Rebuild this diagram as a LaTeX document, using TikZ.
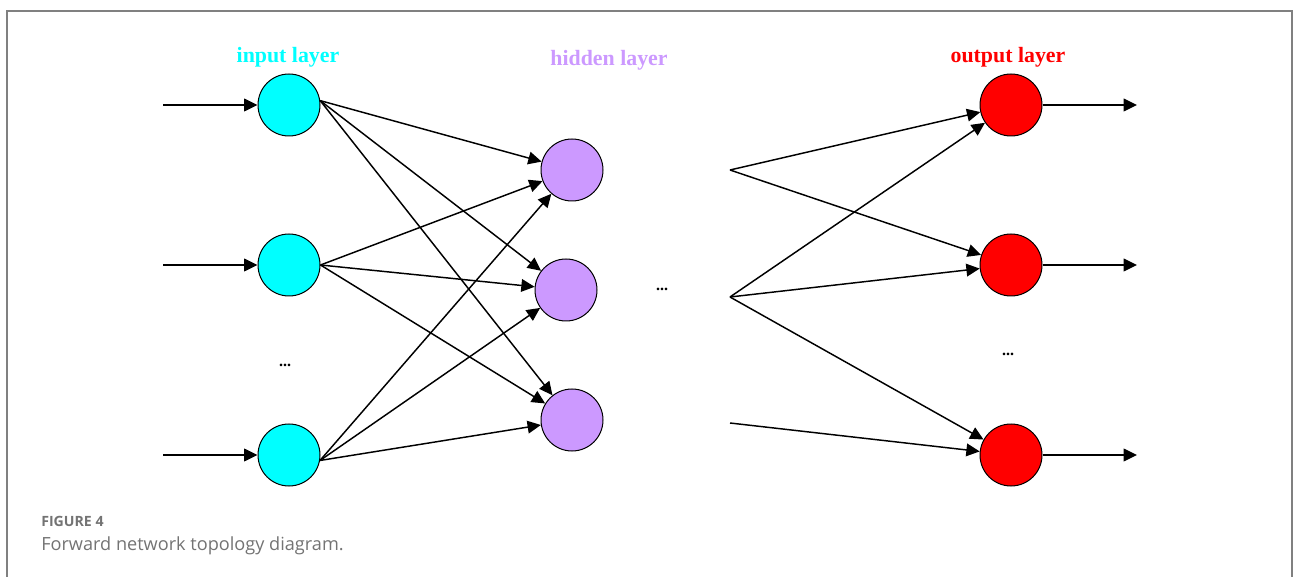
\documentclass[tikz,border=0pt]{standalone}
\usepackage{fontspec}
\setmainfont{Liberation Serif}
\newfontfamily\capfont{Open Sans}
\usetikzlibrary{arrows.meta}

\definecolor{incyan}{rgb}{0,1,1}
\definecolor{hidviolet}{rgb}{0.8,0.6,1}
\definecolor{outred}{rgb}{1,0,0}
\definecolor{framegray}{rgb}{0.5,0.5,0.5}
\definecolor{capgray}{rgb}{0.45,0.45,0.45}

\tikzset{
  neuron/.style={circle,draw=black,line width=0.75,minimum size=46.5,inner sep=0},
  link/.style={line width=1.1,-{Triangle[length=10,width=9.5]}},
  layertitle/.style={inner sep=0.75,font=\fontsize{16.4}{18}\selectfont\bfseries},
  dotsnode/.style={inner sep=0.75,font=\fontsize{12}{14}\selectfont\bfseries}
}

\begin{document}
\begin{tikzpicture}[x=0.75pt,y=0.75pt,yscale=-1,xscale=1]
\useasboundingbox (0,0) rectangle (1293,577);

%Frame
\draw [color=framegray, line width=1.5]  (7,577) -- (7,11) -- (1292,11) -- (1292,577) ;

% Input layer
\node [neuron, fill=incyan] (in1) at (289,105) {};
\node [neuron, fill=incyan] (in2) at (289,265) {};
\node [neuron, fill=incyan] (in3) at (289,455) {};
% Hidden layer
\node [neuron, fill=hidviolet] (hid1) at (572,170) {};
\node [neuron, fill=hidviolet] (hid2) at (566,290) {};
\node [neuron, fill=hidviolet] (hid3) at (572,420) {};
% Output layer
\node [neuron, fill=outred] (out1) at (1011,105) {};
\node [neuron, fill=outred] (out2) at (1011,265) {};
\node [neuron, fill=outred] (out3) at (1011,455) {};

% Free ends
\coordinate (src1) at (163,105);
\coordinate (src2) at (163,265);
\coordinate (src3) at (163,455);
\coordinate (dst1) at (1137,105);
\coordinate (dst2) at (1137,265);
\coordinate (dst3) at (1137,455);
\coordinate (mid1) at (730,170);
\coordinate (mid2) at (730,297);
\coordinate (mid3) at (730,423);

% Text Node
\node [layertitle, text=incyan] (inlabel) at (288,57) {input layer};
% Text Node
\node [layertitle, text=hidviolet] (hidlabel) at (609,60) {hidden layer};
% Text Node
\node [layertitle, text=outred] (outlabel) at (1008,57) {output layer};
% Text Node
\node [dotsnode] (indots) at (285,365) {...};
% Text Node
\node [dotsnode] (hiddots) at (662,289) {...};
% Text Node
\node [dotsnode] (outdots) at (1008,354) {...};

% Inputs
\draw [link] (src1) -- (in1);
\draw [link] (src2) -- (in2);
\draw [link] (src3) -- (in3);
% Input to hidden
\draw [link] (in1.8) -- (hid1);
\draw [link] (in1.8) -- (hid2);
\draw [link] (in1.8) -- (hid3);
\draw [link] (in2.east) -- (hid1);
\draw [link] (in2.east) -- (hid2);
\draw [link] (in2.east) -- (hid3);
\draw [link] (in3.-10) -- (hid1);
\draw [link] (in3.-10) -- (hid2);
\draw [link] (in3.-10) -- (hid3);
% Into output
\draw [link] (mid1) -- (out1);
\draw [link] (mid1) -- (out2);
\draw [link] (mid2) -- (out1);
\draw [link] (mid2) -- (out2);
\draw [link] (mid2) -- (out3);
\draw [link] (mid3) -- (out3);
% Outputs
\draw [link] (out1) -- (dst1);
\draw [link] (out2) -- (dst2);
\draw [link] (out3) -- (dst3);

% Caption
\node [anchor=west, inner sep=0, text=capgray, font=\capfont\fontsize{10.6}{12}\selectfont\bfseries] (figlabel) at (41,521) {FIGURE 4};
\node [anchor=west, inner sep=0, text=capgray, font=\capfont\fontsize{13.6}{16}\selectfont] (figcaption) at (41,546) {Forward network topology diagram.};

\end{tikzpicture}
\end{document}
